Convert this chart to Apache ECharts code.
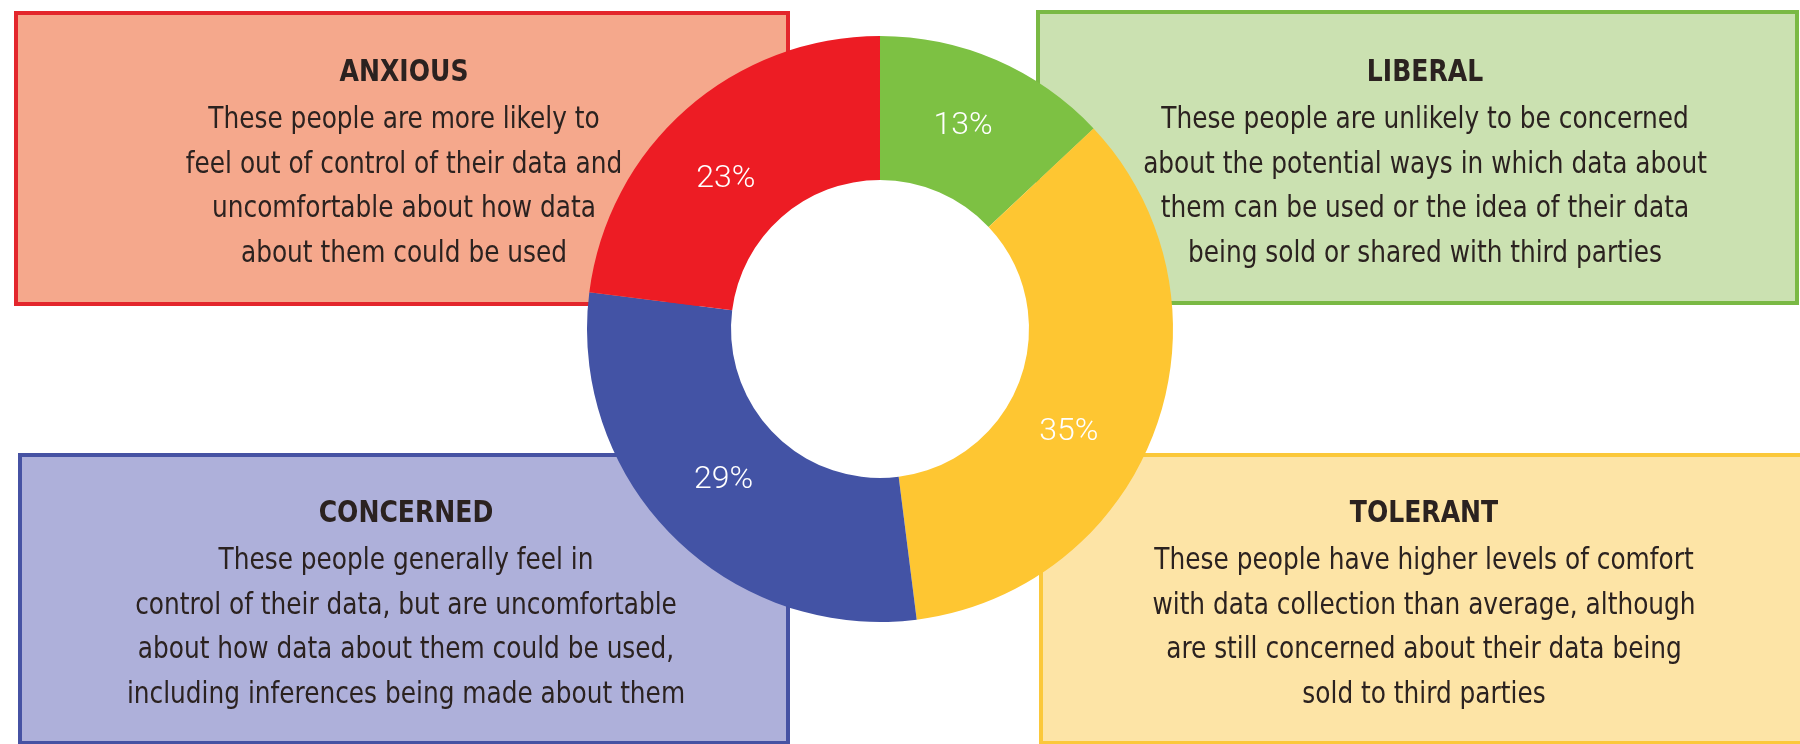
<!DOCTYPE html>
<html>
<head>
<meta charset="utf-8">
<script src="https://cdn.jsdelivr.net/npm/echarts@6/dist/echarts.min.js"></script>
<style>
html,body{margin:0;padding:0;background:#fff;}
#chart{width:1800px;height:744px;}
</style>
</head>
<body>
<div id="chart"></div>
<script>
// ---- data ----
const categories = ['LIBERAL', 'TOLERANT', 'CONCERNED', 'ANXIOUS'];
const values = [13, 35, 29, 23];
const sliceColors = ['#7DC143', '#FEC632', '#4353A5', '#ED1C24'];

const descLiberal = [
  'These people are unlikely to be concerned',
  'about the potential ways in which data about',
  'them can be used or the idea of their data',
  'being sold or shared with third parties'
];
const descTolerant = [
  'These people have higher levels of comfort',
  'with data collection than average, although',
  'are still concerned about their data being',
  'sold to third parties'
];
const descConcerned = [
  'These people generally feel in',
  'control of their data, but are uncomfortable',
  'about how data about them could be used,',
  'including inferences being made about them'
];
const descAnxious = [
  'These people are more likely to',
  'feel out of control of their data and',
  'uncomfortable about how data',
  'about them could be used'
];

// ---- layout / styles ----
const FONT = "'DejaVu Sans Condensed', 'Liberation Sans Narrow', sans-serif";
const LABEL_FONT = "Roboto, 'Open Sans', sans-serif";
const TEXT_COLOR = '#2B2220';
const PIE_CENTER = [880, 329];
const PIE_RADIUS = [149, 293];
const boxes = [
  {title: 'ANXIOUS', desc: descAnxious, x: 16, y: 13, w: 772, h: 291, fill: '#F5A88C', stroke: '#E3262C', tx: 404, ty: 73},
  {title: 'LIBERAL', desc: descLiberal, x: 1038, y: 12, w: 759, h: 291, fill: '#CBE1B1', stroke: '#7AB944', tx: 1425, ty: 73},
  {title: 'CONCERNED', desc: descConcerned, x: 20, y: 455, w: 768, h: 288, fill: '#AEB0DA', stroke: '#4652A3', tx: 406, ty: 514},
  {title: 'TOLERANT', desc: descTolerant, x: 1041, y: 455, w: 800, h: 288, fill: '#FDE4A6', stroke: '#FBC83A', tx: 1424, ty: 514}
];

const graphics = [];
boxes.forEach((b) => {
  graphics.push({
    type: 'rect', z: -10,
    shape: {x: b.x, y: b.y, width: b.w, height: b.h},
    style: {fill: b.fill, stroke: b.stroke, lineWidth: 4}
  });
  graphics.push({
    type: 'text', z: -5,
    x: b.tx, y: b.ty, scaleX: 0.93,
    style: {
      text: b.title, x: 0, y: 0,
      align: 'center', verticalAlign: 'middle',
      fontFamily: FONT, fontWeight: 'bold', fontSize: 30, fill: TEXT_COLOR
    }
  });
  graphics.push({
    type: 'text', z: -5,
    x: b.tx, y: b.ty + 25, scaleX: 0.92,
    style: {
      text: b.desc.join('\n'), x: 0, y: 0,
      align: 'center', verticalAlign: 'top', lineHeight: 44.5,
      fontFamily: FONT, fontSize: 30, fill: TEXT_COLOR
    }
  });
});
// white disc behind the donut so the hole stays white over the boxes
graphics.push({
  type: 'circle', z: -1,
  shape: {cx: PIE_CENTER[0], cy: PIE_CENTER[1], r: PIE_RADIUS[0] + 2},
  style: {fill: '#FFFFFF'}
});

const labelNudge = [[-6, 3], [-22, 27], [2, -7], [-6, 18]];

const option = {
  animation: false,
  backgroundColor: '#ffffff',
  graphic: graphics,
  series: [{
    type: 'pie',
    z: 5,
    center: PIE_CENTER,
    radius: PIE_RADIUS,
    startAngle: 90,
    clockwise: true,
    silent: true,
    label: {
      show: true,
      position: 'inside',
      formatter: '{c}%',
      color: '#FFFFFF',
      fontFamily: LABEL_FONT,
      fontSize: 32,
      fontWeight: 300
    },
    labelLine: {show: false},
    itemStyle: {borderWidth: 0},
    data: categories.map((c, i) => ({
      name: c, value: values[i],
      itemStyle: {color: sliceColors[i]},
      label: {offset: labelNudge[i]}
    }))
  }]
};

const chart = echarts.init(document.getElementById('chart'), null, {renderer: 'canvas'});
chart.setOption(option);
</script>
</body>
</html>
